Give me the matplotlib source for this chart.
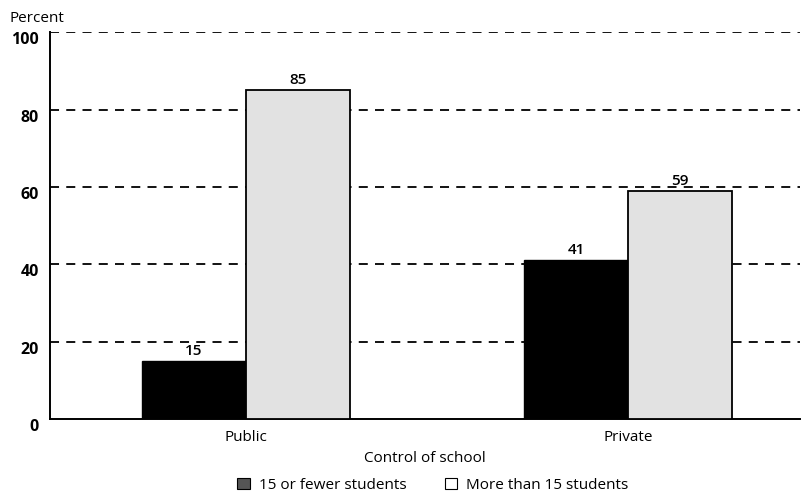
import matplotlib.pyplot as plt
import matplotlib.transforms as mtransforms
import numpy as np

plt.rcParams['font.family'] = ['Open Sans', 'DejaVu Sans']

categories = ["Public", "Private"]
fewer_15 = [15, 41]
more_15 = [85, 59]
series_names = ["15 or fewer students", "More than 15 students"]
y_ticks = [0, 20, 40, 60, 80, 100]

fig = plt.figure(figsize=(8.06, 4.96), dpi=100)
ax = fig.add_axes([0.062, 0.155, 0.931, 0.78])

x = np.arange(len(categories))
w = 0.272
b1 = ax.bar(x - w / 2, fewer_15, w, color="black", edgecolor="black", linewidth=1, zorder=3)
b2 = ax.bar(x + w / 2, more_15, w, color="#e2e2e2", edgecolor="black", linewidth=1.3, zorder=3)

for bars in (b1, b2):
    for r in bars:
        ax.text(r.get_x() + r.get_width() / 2, r.get_height() + 0.8, f"{r.get_height():.0f}",
                ha="center", va="bottom", fontsize=11, fontweight="semibold")

ax.set_ylim(0, 100)
ax.set_xlim(-0.513, 1.45)
ax.set_yticks(y_ticks)
ax.set_yticklabels([str(t) for t in y_ticks], fontsize=11.5, fontweight="bold")
ax.set_xticks(x)
ax.set_xticklabels(categories, fontsize=11)
ax.tick_params(axis="y", length=0, pad=8)
ax.tick_params(axis="x", length=0, pad=8)

# y labels sit a little below their gridlines in the original
off = mtransforms.ScaledTranslation(0, -6 / 100, fig.dpi_scale_trans)
for lab in ax.get_yticklabels():
    lab.set_transform(lab.get_transform() + off)

for t in y_ticks[1:]:
    ax.axhline(t, color="black", linestyle=(0, (5, 4)), linewidth=1.3, zorder=1)

for s in ["top", "right"]:
    ax.spines[s].set_visible(False)
ax.spines["left"].set_linewidth(1.4)
ax.spines["bottom"].set_linewidth(1.4)

ax.set_xlabel("Control of school", fontsize=11, labelpad=4)
fig.text(0.012, 0.962, "Percent", fontsize=11, ha="left", va="center")

handles = [plt.Rectangle((0, 0), 1, 1, facecolor="#555555", edgecolor="black", linewidth=0.8),
           plt.Rectangle((0, 0), 1, 1, facecolor="white", edgecolor="black", linewidth=0.8)]
fig.legend(handles, series_names, loc="center", bbox_to_anchor=(0.537, 0.022), ncol=2,
           frameon=False, fontsize=11, handlelength=0.8, handleheight=0.8,
           handletextpad=0.6, columnspacing=2.5)

fig.savefig("out.png", dpi=100)
